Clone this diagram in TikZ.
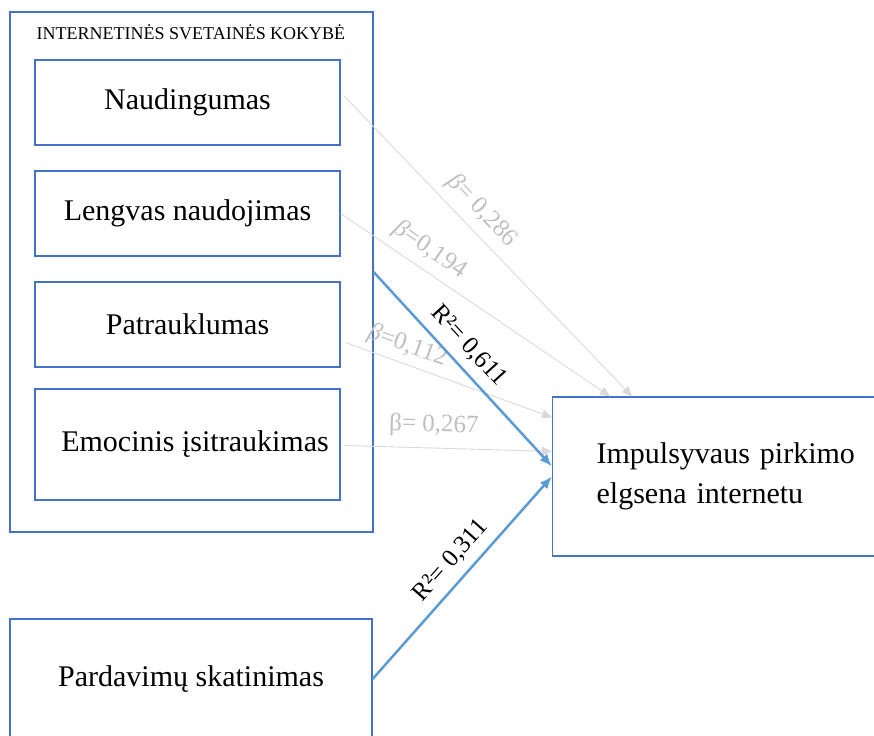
\documentclass[tikz,border=0pt]{standalone}
\usepackage{fontspec}
\setmainfont{Liberation Serif}
\usetikzlibrary{arrows.meta,calc}
\definecolor{rembas}{HTML}{4472C4}
\definecolor{rodykle}{HTML}{5B9BD5}
\definecolor{silpna}{HTML}{D9D9D9}
\definecolor{koef}{HTML}{BFBFBF}

\begin{document}
\begin{tikzpicture}[
                        x=0.4pt, y=-0.4pt,
                        >=latex,
                        blokas/.style={rectangle, draw=rembas, line width=0.5pt, font=\fontsize{12}{16}\selectfont},
                        silpnas/.style={-{Triangle[length=4pt,width=3.5pt]}, draw=silpna, line width=0.35pt},
                        stiprus/.style={-{Latex[length=5pt,width=4pt]}, draw=rodykle, line width=1pt},
                        beta/.style={sloped, above, text=koef, font=\fontsize{10}{12}\selectfont},
                        rkv/.style={sloped, above, text=black, font=\fontsize{10}{12}\selectfont}
                    ]
                    \clip (0,0) rectangle (874,735);
                    % Blocks
                    \node [blokas, minimum width=145.2pt, minimum height=208pt] (kokybe) at (191.5,272) {};
                    \node [font=\fontsize{7.2}{9}\selectfont] (antraste) at (191,32) {INTERNETINĖS SVETAINĖS KOKYBĖ};
                    \node [blokas, minimum width=122pt, minimum height=34pt] (naudingumas) at (187.5,102.5) {Naudingumas\hspace{8pt}};
                    \node [blokas, minimum width=122pt, minimum height=34pt] (lengvas) at (187.5,213.5) {Lengvas naudojimas};
                    \node [blokas, minimum width=122pt, minimum height=34pt] (patrauklumas) at (187.5,324.5) {Patrauklumas\hspace{6pt}};
                    \node [blokas, minimum width=122pt, minimum height=44.4pt] (emocinis) at (187.5,444.5) {\hspace{6pt}Emocinis įsitraukimas};
                    \node [blokas, anchor=west, align=left, text width=110pt, inner xsep=17.6pt, minimum height=63.6pt] (impulsas) at (552,476.5) {Impulsyvaus pirkimo\\elgsena internetu\\[-4.5pt]};
                    \node [blokas, minimum width=144.8pt, minimum height=48pt] (skatinimas) at (191,679) {Pardavimų skatinimas};

                    % Connections
                    \draw [silpnas] ($(naudingumas.east)+(3,-7)$) --node[beta, pos=.43]{{\itshape β}= 0,286} ($(impulsas.north west)+(80,0)$);
                    \draw [silpnas] (lengvas.east) --node[beta, pos=.29]{{\itshape β}=0,194} ($(impulsas.north west)+(58,0)$);
                    \draw [silpnas] ($(patrauklumas.east)+(5,18)$) --node[beta, pos=.27, above=-1pt]{{\itshape β}=0,112} ($(impulsas.north west)+(0,21)$);
                    \draw [silpnas] ($(emocinis.east)+(3,1)$) --node[beta, pos=.43, above=1pt]{β= 0,267} ($(impulsas.north west)+(0,55)$);
                    \draw [stiprus] (kokybe.east) --node[rkv, pos=.45]{R²= 0,611} ($(impulsas.north west)+(0,70)$);
                    \draw [stiprus] (skatinimas.east) --node[rkv, pos=.52]{R²= 0,311} ($(impulsas.north west)+(0,80)$);
                \end{tikzpicture}
\end{document}
